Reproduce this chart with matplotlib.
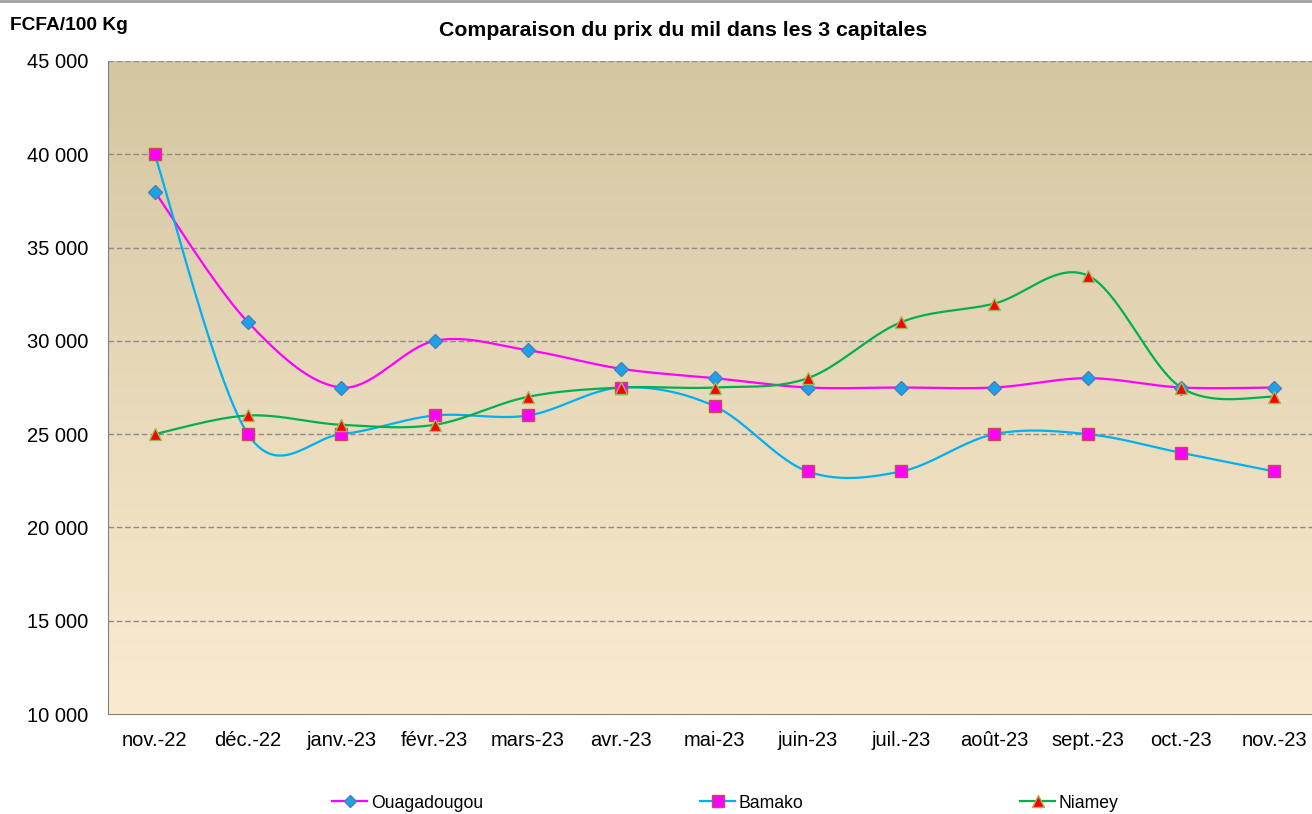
import numpy as np
import matplotlib
matplotlib.use("Agg")
import matplotlib.pyplot as plt
from matplotlib.lines import Line2D

plt.rcParams['font.family'] = ['Liberation Sans', 'DejaVu Sans']

months = ["nov.-22", "déc.-22", "janv.-23", "févr.-23", "mars-23", "avr.-23", "mai-23",
          "juin-23", "juil.-23", "août-23", "sept.-23", "oct.-23", "nov.-23"]
ouaga = [38000, 31000, 27500, 30000, 29500, 28500, 28000, 27500, 27500, 27500, 28000, 27500, 27500]
bamako = [40000, 25000, 25000, 26000, 26000, 27500, 26500, 23000, 23000, 25000, 25000, 24000, 23000]
niamey = [25000, 26000, 25500, 25500, 27000, 27500, 27500, 28000, 31000, 32000, 33500, 27500, 27000]
yticks = [10000, 15000, 20000, 25000, 30000, 35000, 40000, 45000]


def smooth(xs, ys, n=40):
    xs = np.asarray(xs, float); ys = np.asarray(ys, float)
    P = np.column_stack([xs, ys])
    out = []
    for i in range(len(P) - 1):
        p0 = P[i - 1] if i > 0 else P[i]
        p1 = P[i]; p2 = P[i + 1]
        p3 = P[i + 2] if i + 2 < len(P) else P[i + 1]
        c1 = p1 + (p2 - p0) / 6.0
        c2 = p2 - (p3 - p1) / 6.0
        t = np.linspace(0, 1, n)[:, None]
        seg = (1 - t) ** 3 * p1 + 3 * (1 - t) ** 2 * t * c1 + 3 * (1 - t) * t ** 2 * c2 + t ** 3 * p2
        out.append(seg if i == 0 else seg[1:])
    S = np.vstack(out)
    return S[:, 0], S[:, 1]


fig = plt.figure(figsize=(13.12, 8.14), dpi=100)
ax = fig.add_axes([108 / 1312, 100 / 814, 1213 / 1312, 653 / 814])

ax.set_xlim(-0.5, len(months) - 0.5)
ax.set_ylim(10000, 45000)

# gradient background
grad = np.linspace(0, 1, 256)[:, None]
top = np.array([212, 198, 162]) / 255
bot = np.array([251, 236, 208]) / 255
img = top[None, None, :] * (1 - grad[:, :, None]) + bot[None, None, :] * grad[:, :, None]
ax.imshow(img, extent=[-0.5, len(months) - 0.5, 10000, 45000], aspect='auto', zorder=0, origin='upper')

for y in yticks[1:]:
    ax.axhline(y, color='#8c8c8c', lw=1.0, ls=(0, (4, 2)), zorder=1)

x = np.arange(len(months))
series = [
    ("Ouagadougou", ouaga, '#FF00FF', 'D', '#1AA3E8', '#4A7EBB', 7, 6.5),
    ("Bamako", bamako, '#00B0F0', 's', '#FF00FF', '#C0504D', 9, 8),
    ("Niamey", niamey, '#00B050', '^', '#FF0000', '#9BBB59', 9, 8),
]
handles = []
for name, vals, lc, m, mfc, mec, ms, lms in series:
    sx, sy = smooth(x, vals)
    ax.plot(sx, sy, color=lc, lw=1.6, zorder=3)
    ax.plot(x, vals, ls='none', marker=m, ms=ms, mfc=mfc, mec=mec, mew=1.0, zorder=4)
    handles.append(Line2D([], [], color=lc, lw=1.6, marker=m, ms=lms, mfc=mfc, mec=mec, mew=1.0))

ax.set_xticks(x)
ax.set_xticklabels(months, fontsize=14.5)
ax.set_yticks(yticks)
ax.set_yticklabels([f"{v:,}".replace(",", " ") for v in yticks], fontsize=14.5)
ax.tick_params(axis='both', length=0)
ax.tick_params(axis='x', pad=12)
ax.tick_params(axis='y', pad=14)
for s in ['top', 'right']:
    ax.spines[s].set_visible(False)
ax.spines['left'].set_color('#808080')
ax.spines['bottom'].set_color('#808080')

fig.text(683 / 1312, 1 - 30 / 814, "Comparaison du prix du mil dans les 3 capitales",
         ha='center', va='center', fontsize=15.3, fontweight='bold')
fig.text(10 / 1312, 1 - 25 / 814, "FCFA/100 Kg", ha='left', va='center', fontsize=13.8, fontweight='bold')

legx = [332, 700, 1020]
for h, s, lx in zip(handles, series, legx):
    fig.legend([h], [s[0]], loc='center left', bbox_to_anchor=(lx / 1312, 1 - 803 / 814),
               frameon=False, fontsize=12.7, handlelength=2.0, handletextpad=0.2,
               borderaxespad=0, borderpad=0)

fig.add_artist(Line2D([0, 1], [1 - 1 / 814, 1 - 1 / 814], transform=fig.transFigure, color='#a0a0a0', lw=2))

fig.savefig("out.png", dpi=100)
